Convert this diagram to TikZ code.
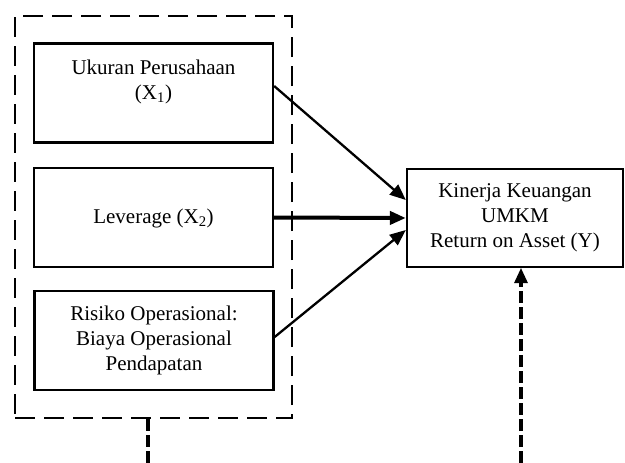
\documentclass[tikz,border=0pt]{standalone}
\usepackage{fontspec}
\setmainfont{Liberation Serif}
\usetikzlibrary{arrows.meta,calc}
\begin{document}
\begin{tikzpicture}[x=1pt,y=-1pt,
  varbox/.style={draw,line width=2.3pt,inner sep=0pt,minimum width=239pt,minimum height=99pt},
  lbl/.style={align=center,font=\fontsize{21}{25}\selectfont,inner sep=0pt},
  grp/.style={draw,line width=2.4pt,dash pattern=on 20pt off 9pt,inner sep=0pt},
  arr/.style={line width=2.3pt,-{Triangle[length=16pt,width=13pt]}},
  thickarr/.style={line width=4pt,-{Triangle[length=16pt,width=13pt]}},
  vdash/.style={line width=4pt,dash pattern=on 12pt off 4pt}]
\useasboundingbox (0,0) rectangle (625,463);
\node[grp,minimum width=277pt,minimum height=402pt] (grp) at (153.5,217) {};
\node[varbox] (b1) at (153.5,93) {};
\node[lbl] (t1) at (153.5,82) {Ukuran Perusahaan\\(X\textsubscript{1})};
\node[varbox] (b2) at (153.5,217.5) {};
\node[lbl] (t2) at (153.5,218) {Leverage (X\textsubscript{2})};
\node[varbox] (b3) at (154,340.5) {};
\node[lbl] (t3) at (154,340) {Risiko Operasional:\\Biaya Operasional\\Pendapatan};
\node[varbox,minimum width=216pt,minimum height=98pt] (y) at (515,218) {};
\node[lbl] (ty) at (515,218) {Kinerja Keuangan\\UMKM\\Return on Asset (Y)};
\draw[arr] ([yshift=7pt]b1.east) -- ([yshift=18pt]y.west);
\draw[thickarr] (b2.east) -- (y.west);
\draw[arr] ([yshift=3.5pt]b3.east) -- ([yshift=-12pt]y.west);
\coordinate (lb) at (148,463);
\coordinate (rb) at (521,463);
\draw[vdash] (grp.south -| lb) -- (lb);
\draw[vdash] (rb) -- ([yshift=-14pt]y.south -| rb);
\fill (y.south -| rb) -- ++(-7,15) -- ++(14,0) -- cycle;
\end{tikzpicture}
\end{document}
